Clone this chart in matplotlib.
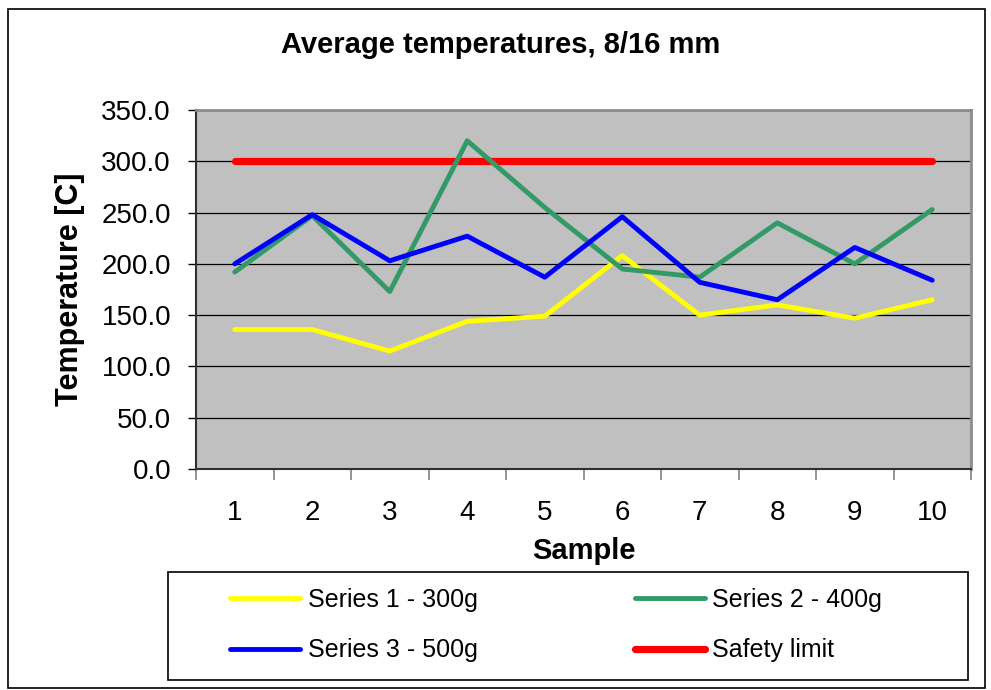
import matplotlib
matplotlib.use("Agg")
import matplotlib.pyplot as plt
from matplotlib.patches import Rectangle
from matplotlib.lines import Line2D
import numpy as np

samples = [1, 2, 3, 4, 5, 6, 7, 8, 9, 10]
series1 = [136, 136, 115, 144, 149, 208, 150, 160, 147, 165]
series2 = [192, 247, 173, 320, 255, 195, 187, 240, 200, 253]
series3 = [200, 248, 203, 227, 187, 246, 182, 165, 216, 184]
safety = [300, 300, 300, 300, 300, 300, 300, 300, 300, 300]
labels = ["Series 1 - 300g", "Series 2 - 400g", "Series 3 - 500g", "Safety limit"]
yticks = [0, 50, 100, 150, 200, 250, 300, 350]

W, H = 991, 690
fig = plt.figure(figsize=(W / 100, H / 100), dpi=100)
plt.rcParams['font.family'] = ['Liberation Sans', 'DejaVu Sans']

def fx(px):
    return px / W

def fy(py):
    return 1 - py / H

# figure border
fig.patches.append(Rectangle((fx(8), fy(688)), fx(985) - fx(8), fy(9) - fy(688),
                             transform=fig.transFigure, fill=False, edgecolor='black', lw=1.2))

ax = fig.add_axes([fx(196), fy(469), fx(971) - fx(196), fy(110) - fy(469)])
ax.set_facecolor('#C0C0C0')

ax.plot(samples, safety, color='#FF0000', lw=5.2, solid_capstyle='round', zorder=3)
ax.plot(samples, series1, color='#FFFF00', lw=3.5, solid_capstyle='round', zorder=4)
ax.plot(samples, series2, color='#339966', lw=3.5, solid_capstyle='round', zorder=4)
ax.plot(samples, series3, color='#0000FF', lw=3.5, solid_capstyle='round', zorder=5)

ax.set_xlim(0.5, 10.5)
ax.set_ylim(0, 350)
ax.set_yticks(yticks)
ax.set_yticklabels([f"{v:.1f}" for v in yticks], fontsize=20)
ax.yaxis.grid(True, color='black', lw=0.9)
ax.set_axisbelow(True)
ax.tick_params(axis='y', length=6, width=1, color='black', direction='out', pad=12)

ax.set_xticks(samples)
ax.set_xticklabels([str(s) for s in samples], fontsize=20)
ax.set_xticks(np.arange(0.5, 11, 1), minor=True)
ax.tick_params(axis='x', which='major', length=0, pad=22)
ax.tick_params(axis='x', which='minor', length=8, width=1.2, color='#808080', direction='out')

for s in ['top', 'right']:
    ax.spines[s].set_color('#8c8c8c')
    ax.spines[s].set_linewidth(2)
for s in ['left', 'bottom']:
    ax.spines[s].set_color('#303030')
    ax.spines[s].set_linewidth(1.5)

ax.set_xlabel("Sample", fontsize=21, fontweight='bold', labelpad=8)
ax.set_ylabel("Temperature [C]", fontsize=22, fontweight='bold', labelpad=12)

fig.text(fx(501), fy(45), "Average temperatures, 8/16 mm", fontsize=21, fontweight='bold',
         ha='center', va='center')

# legend frame
fig.patches.append(Rectangle((fx(168), fy(680)), fx(968) - fx(168), fy(572) - fy(680),
                             transform=fig.transFigure, fill=False, edgecolor='black', lw=1.2))
handles = [Line2D([], [], color='#FFFF00', lw=3.5, solid_capstyle='round'),
           Line2D([], [], color='#0000FF', lw=3.5, solid_capstyle='round'),
           Line2D([], [], color='#339966', lw=3.5, solid_capstyle='round'),
           Line2D([], [], color='#FF0000', lw=5.2, solid_capstyle='round')]
leg_labels = [labels[0], labels[2], labels[1], labels[3]]
fig.legend(handles, leg_labels, loc='upper left', bbox_to_anchor=(fx(230), fy(588)),
           ncol=2, frameon=False, handlelength=2.8, handletextpad=0.3,
           columnspacing=6.3, labelspacing=1.05, borderpad=0, borderaxespad=0,
           prop={'family': ['Liberation Sans'], 'size': 18})

fig.savefig("out.png", dpi=100)
